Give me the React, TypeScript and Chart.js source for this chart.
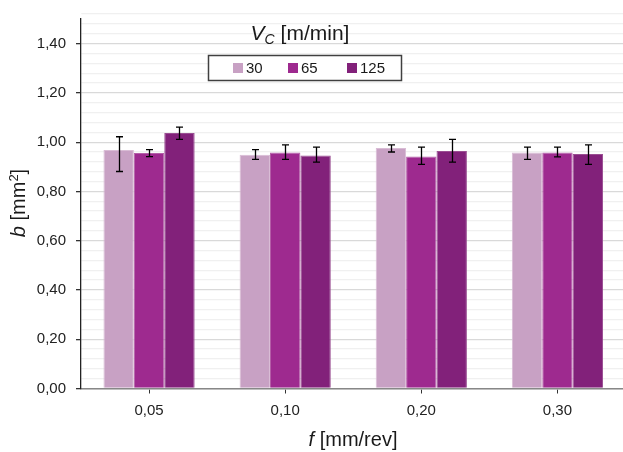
import React, { useEffect, useRef } from "react";
import { Chart, registerables } from "chart.js";

Chart.register(...registerables);

const categories = ["0,05", "0,10", "0,20", "0,30"];
const seriesLabels = ["30", "65", "125"];
const b30 = [0.968, 0.949, 0.976, 0.958];
const b65 = [0.956, 0.958, 0.942, 0.958];
const b125 = [1.037, 0.946, 0.964, 0.952];
const hi30 = [1.022, 0.97, 0.989, 0.98];
const lo30 = [0.881, 0.93, 0.96, 0.93];
const hi65 = [0.97, 0.989, 0.98, 0.98];
const lo65 = [0.941, 0.93, 0.91, 0.94];
const hi125 = [1.061, 0.98, 1.011, 0.989];
const lo125 = [1.011, 0.919, 0.919, 0.91];
const yMajorTicks = [0, 0.2, 0.4, 0.6, 0.8, 1.0, 1.2, 1.4];
const yMinorStep = 0.04;
const yMax = 1.5;

const colors = ["#C8A1C4", "#9E2A8F", "#82217A"];
const borders = ["#D9BCD5", "#B45FA8", "#9A4E92"];

const FONT = "'Liberation Sans', Arial, sans-serif";

type Run = { text: string; italic?: boolean; size: number; dy?: number };

function drawRuns(ctx: CanvasRenderingContext2D, runs: Run[], cx: number, baseline: number) {
  let total = 0;
  const widths = runs.map((r) => {
    ctx.font = `${r.italic ? "italic " : ""}${r.size}px ${FONT}`;
    const w = ctx.measureText(r.text).width;
    total += w;
    return w;
  });
  let x = cx - total / 2;
  ctx.textAlign = "left";
  ctx.textBaseline = "alphabetic";
  runs.forEach((r, i) => {
    ctx.font = `${r.italic ? "italic " : ""}${r.size}px ${FONT}`;
    ctx.fillText(r.text, x, baseline + (r.dy || 0));
    x += widths[i];
  });
}

const isMajor = (v: number) => Math.abs(v / 0.2 - Math.round(v / 0.2)) < 1e-6;

export default function App() {
  const ref = useRef<HTMLCanvasElement>(null);
  useEffect(() => {
    if (!ref.current) return;
    const values = [b30, b65, b125];
    const his = [hi30, hi65, hi125];
    const los = [lo30, lo65, lo125];

    const errorBars = {
      id: "errorBars",
      afterDatasetsDraw(chart: any) {
        const ctx = chart.ctx;
        const ys = chart.scales.y;
        ctx.save();
        ctx.strokeStyle = "#000";
        ctx.lineWidth = 1.3;
        values.forEach((_, i) => {
          const meta = chart.getDatasetMeta(i);
          meta.data.forEach((bar: any, j: number) => {
            const x = Math.round(bar.x) + 0.5;
            const yh = ys.getPixelForValue(his[i][j]);
            const yl = ys.getPixelForValue(los[i][j]);
            ctx.beginPath();
            ctx.moveTo(x, yh);
            ctx.lineTo(x, yl);
            ctx.moveTo(x - 3.5, yh);
            ctx.lineTo(x + 3.5, yh);
            ctx.moveTo(x - 3.5, yl);
            ctx.lineTo(x + 3.5, yl);
            ctx.stroke();
          });
        });
        ctx.restore();
      },
    };

    const texts = {
      id: "texts",
      afterDraw(chart: any) {
        const ctx = chart.ctx;
        ctx.save();
        ctx.fillStyle = "#1a1a1a";
        drawRuns(
          ctx,
          [
            { text: "V", italic: true, size: 21 },
            { text: "C", italic: true, size: 14, dy: 4 },
            { text: " [m/min]", size: 21 },
          ],
          300,
          40
        );
        ctx.fillStyle = "#fff";
        ctx.fillRect(208.5, 55.5, 193, 25);
        ctx.strokeStyle = "#404040";
        ctx.lineWidth = 1.5;
        ctx.strokeRect(208.5, 55.5, 193, 25);
        const itemX = [233, 288, 347];
        seriesLabels.forEach((lab, i) => {
          ctx.fillStyle = colors[i];
          ctx.fillRect(itemX[i], 63, 10, 10);
          ctx.fillStyle = "#1a1a1a";
          ctx.font = `15px ${FONT}`;
          ctx.textAlign = "left";
          ctx.textBaseline = "middle";
          ctx.fillText(lab, itemX[i] + 13, 68.5);
        });
        ctx.fillStyle = "#1a1a1a";
        drawRuns(
          ctx,
          [
            { text: "f", italic: true, size: 20 },
            { text: " [mm/rev]", size: 20 },
          ],
          353,
          446
        );
        ctx.save();
        ctx.translate(25, 203);
        ctx.rotate(-Math.PI / 2);
        drawRuns(
          ctx,
          [
            { text: "b", italic: true, size: 20 },
            { text: " [mm", size: 20 },
            { text: "2", size: 13, dy: -7 },
            { text: "]", size: 20 },
          ],
          0,
          0
        );
        ctx.restore();
        ctx.restore();
      },
    };

    const chart = new Chart(ref.current, {
      type: "bar",
      data: {
        labels: categories,
        datasets: values.map((v, i) => ({
          label: seriesLabels[i],
          data: v,
          backgroundColor: colors[i],
          borderColor: borders[i],
          borderWidth: 1,
          categoryPercentage: 0.67,
          barPercentage: 1,
        })),
      },
      options: {
        animation: false,
        responsive: false,
        maintainAspectRatio: false,
        layout: { padding: { top: 18, right: 1.5, left: 0, bottom: 0 } },
        plugins: { legend: { display: false }, tooltip: { enabled: false }, title: { display: false } },
        scales: {
          x: {
            grid: {
              display: true,
              drawOnChartArea: false,
              drawTicks: true,
              tickLength: 5,
              tickColor: "#333",
              offset: false,
            },
            border: { color: "#878787", width: 1.5 },
            ticks: { font: { family: FONT, size: 15 }, color: "#222", padding: 8 },
            afterFit: (s: any) => {
              s.height = 63.5;
            },
          },
          y: {
            min: 0,
            max: yMax,
            afterBuildTicks: (axis: any) => {
              const t: any[] = [];
              const n = Math.round(yMax / yMinorStep);
              for (let i = 0; i <= n; i++) t.push({ value: Math.round(i * yMinorStep * 100) / 100 });
              axis.ticks = t;
            },
            grid: {
              color: (c: any) => {
                const v = c.tick ? c.tick.value : 0;
                if (yMajorTicks.some((m) => Math.abs(m - v) < 1e-6)) return "#d9d9d9";
                return "#f0f0f0";
              },
              lineWidth: 1.3,
              tickLength: 5,
              tickColor: (c: any) => {
                const v = c.tick ? c.tick.value : 0;
                return isMajor(v) && v <= 1.4 + 1e-6 ? "#333" : "rgba(0,0,0,0)";
              },
            },
            border: { color: "#222", width: 1.3 },
            ticks: {
              autoSkip: false,
              font: { family: FONT, size: 15 },
              color: "#222",
              padding: 10,
              callback: (v: any) => {
                const n = Number(v);
                return yMajorTicks.some((m) => Math.abs(m - n) < 1e-6) ? n.toFixed(2).replace(".", ",") : "";
              },
            },
            afterFit: (s: any) => {
              s.width = 81;
            },
          },
        },
      },
      plugins: [errorBars, texts],
    } as any);
    return () => chart.destroy();
  }, []);

  return (
    <div style={{ position: "absolute", left: 0, top: 0, width: 623, height: 452, overflow: "hidden", background: "#fff" }}>
      <canvas ref={ref} width={627} height={452} style={{ display: "block" }} />
    </div>
  );
}
